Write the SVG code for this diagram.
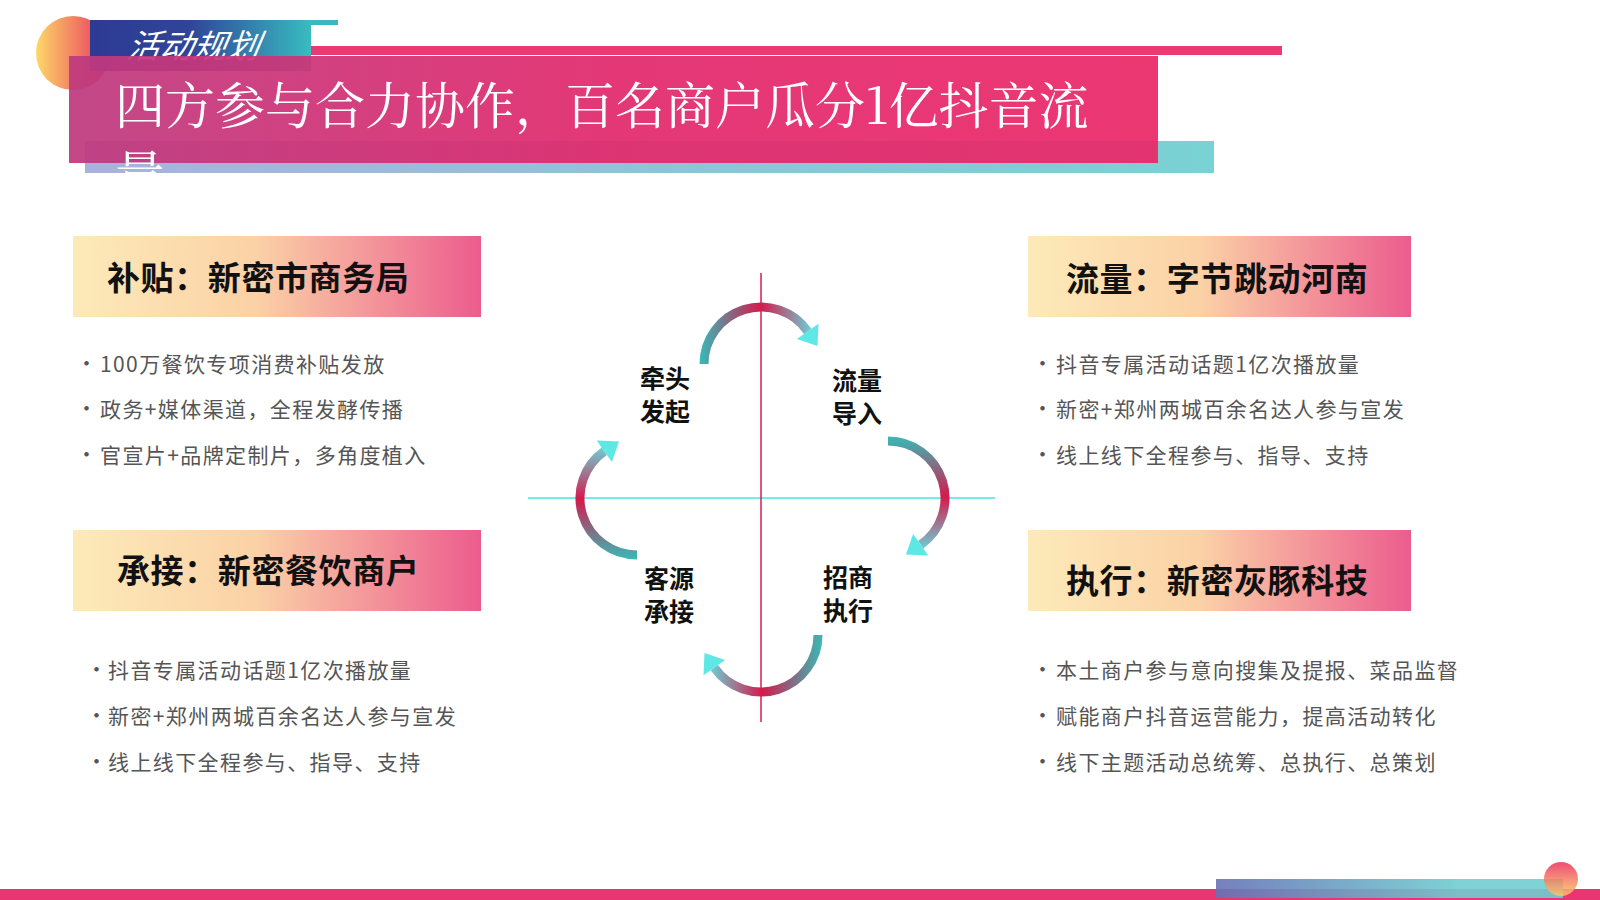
<svg xmlns="http://www.w3.org/2000/svg" width="1600" height="900" viewBox="0 0 1600 900">
<style>
.hd{font-family:"Noto Sans CJK SC",sans-serif;font-weight:700;font-size:33px;letter-spacing:0.6px;fill:#111}
.bl{font-family:"Noto Sans CJK SC",sans-serif;font-size:21px;letter-spacing:1.4px;fill:#555}
.cl{font-family:"Noto Sans CJK SC",sans-serif;font-weight:700;font-size:25px;fill:#111}
</style>
<defs>
<linearGradient id="gc" x1="0" y1="0" x2="1" y2="0"><stop offset="0" stop-color="#fdd868"/><stop offset="1" stop-color="#e8305f"/></linearGradient>
<linearGradient id="gl" x1="0" y1="0" x2="1" y2="0"><stop offset="0" stop-color="#2d3a94"/><stop offset="0.45" stop-color="#2f4598"/><stop offset="1" stop-color="#38bcc0"/></linearGradient>
<linearGradient id="gm" x1="0" y1="0" x2="1" y2="0"><stop offset="0" stop-color="#be3a7f"/><stop offset="0.5" stop-color="#e2296c"/><stop offset="1" stop-color="#ea2868"/></linearGradient>
<linearGradient id="gt" x1="0" y1="0" x2="1" y2="0"><stop offset="0" stop-color="#a9b2dc"/><stop offset="1" stop-color="#78d2d3"/></linearGradient>
<linearGradient id="gh" x1="0" y1="0" x2="1" y2="0"><stop offset="0" stop-color="#fdeab8"/><stop offset="0.45" stop-color="#fbd1a6"/><stop offset="1" stop-color="#ec5c8e"/></linearGradient>
<linearGradient id="gb" x1="0" y1="0" x2="1" y2="0"><stop offset="0" stop-color="#6672b6"/><stop offset="0.7" stop-color="#70cdd0"/><stop offset="1" stop-color="#70cdd0"/></linearGradient>
<linearGradient id="gs" x1="0" y1="0" x2="0" y2="1"><stop offset="0" stop-color="#ea2f5a"/><stop offset="1" stop-color="#fdc76a"/></linearGradient>
<linearGradient id="ga" gradientUnits="userSpaceOnUse" x1="-60" y1="0" x2="58" y2="0"><stop offset="0" stop-color="#3bb6b4"/><stop offset="0.5" stop-color="#d41a4d"/><stop offset="1" stop-color="#5de8e6"/></linearGradient>
<clipPath id="tc"><rect x="0" y="0" width="1600" height="173"/></clipPath>
<g id="arc">
<path d="M-57,0 A57,57 0 0 1 46.7,-32.7" fill="none" stroke="url(#ga)" stroke-width="9"/>
<polygon points="57.5,-40.3 35.9,-25.1 56.5,-18" fill="#5de8e6"/>
</g>
</defs>
<g id="header">
<rect x="311" y="46" width="971" height="9" fill="#e93a72"/>
<rect x="90" y="20" width="248" height="5" fill="#3ab8c0"/>
<circle cx="73" cy="53" r="37" fill="url(#gc)"/>
<rect x="90" y="20" width="221" height="51" fill="url(#gl)"/>
<text x="126" y="58" font-family="'Noto Sans CJK SC',sans-serif" font-style="italic" font-size="33" fill="#fff" transform="skewX(-10) translate(10,0)">活动规划</text>
<rect x="85" y="141" width="1129" height="32" fill="url(#gt)"/>
<rect x="69" y="56" width="1089" height="107" fill="url(#gm)" opacity="0.93"/>
<g clip-path="url(#tc)" font-family="'Noto Serif CJK SC','Noto Sans CJK SC',serif" font-size="50" fill="#fff">
<text x="115" y="124">四方参与合力协作，百名商户瓜分1亿抖音流</text>
<text x="115" y="192">量。</text>
</g>
</g>
<g id="box-tl">
<rect x="73" y="236" width="408" height="81" fill="url(#gh)"/>
<text class="hd" x="107" y="290">补贴：新密市商务局</text>
<text class="bl" x="76" y="371">•</text><text class="bl" x="100" y="372">100万餐饮专项消费补贴发放</text>
<text class="bl" x="76" y="416">•</text><text class="bl" x="100" y="417">政务+媒体渠道，全程发酵传播</text>
<text class="bl" x="76" y="462">•</text><text class="bl" x="100" y="463">官宣片+品牌定制片，多角度植入</text>
</g>
<g id="box-bl">
<rect x="73" y="530" width="408" height="81" fill="url(#gh)"/>
<text class="hd" x="117" y="583">承接：新密餐饮商户</text>
<text class="bl" x="86" y="677">•</text><text class="bl" x="108" y="678">抖音专属活动话题1亿次播放量</text>
<text class="bl" x="86" y="723">•</text><text class="bl" x="108" y="724">新密+郑州两城百余名达人参与宣发</text>
<text class="bl" x="86" y="769">•</text><text class="bl" x="108" y="770">线上线下全程参与、指导、支持</text>
</g>
<g id="box-tr">
<rect x="1028" y="236" width="383" height="81" fill="url(#gh)"/>
<text class="hd" x="1066" y="291">流量：字节跳动河南</text>
<text class="bl" x="1032" y="371">•</text><text class="bl" x="1056" y="372">抖音专属活动话题1亿次播放量</text>
<text class="bl" x="1032" y="416">•</text><text class="bl" x="1056" y="417">新密+郑州两城百余名达人参与宣发</text>
<text class="bl" x="1032" y="462">•</text><text class="bl" x="1056" y="463">线上线下全程参与、指导、支持</text>
</g>
<g id="box-br">
<rect x="1028" y="530" width="383" height="81" fill="url(#gh)"/>
<text class="hd" x="1066" y="593">执行：新密灰豚科技</text>
<text class="bl" x="1032" y="677">•</text><text class="bl" x="1056" y="678">本土商户参与意向搜集及提报、菜品监督</text>
<text class="bl" x="1032" y="723">•</text><text class="bl" x="1056" y="724">赋能商户抖音运营能力，提高活动转化</text>
<text class="bl" x="1032" y="769">•</text><text class="bl" x="1056" y="770">线下主题活动总统筹、总执行、总策划</text>
</g>
<g id="connectors">
<line x1="528" y1="498" x2="995" y2="498" stroke="#49e3e6" stroke-width="1.5"/>
<line x1="761" y1="273" x2="761" y2="722" stroke="#d81b4f" stroke-width="1.5"/>
<use href="#arc" transform="translate(761,364)"/>
<use href="#arc" transform="translate(888,498) rotate(90)"/>
<use href="#arc" transform="translate(761,635) rotate(180)"/>
<use href="#arc" transform="translate(637,498) rotate(270)"/>
</g>
<g id="n1"><text class="cl" x="640" y="388">牵头</text><text class="cl" x="640" y="421">发起</text></g>
<g id="n2"><text class="cl" x="832" y="390">流量</text><text class="cl" x="832" y="423">导入</text></g>
<g id="n3"><text class="cl" x="823" y="587">招商</text><text class="cl" x="823" y="620">执行</text></g>
<g id="n4"><text class="cl" x="644" y="588">客源</text><text class="cl" x="644" y="621">承接</text></g>
<g id="footer">
<rect x="0" y="889" width="1600" height="11" fill="#e93572"/>
<rect x="1216" y="879" width="347" height="19" fill="url(#gb)" opacity="0.9"/>
<circle cx="1561" cy="879" r="17" fill="url(#gs)" opacity="0.85"/>
</g>
</svg>
